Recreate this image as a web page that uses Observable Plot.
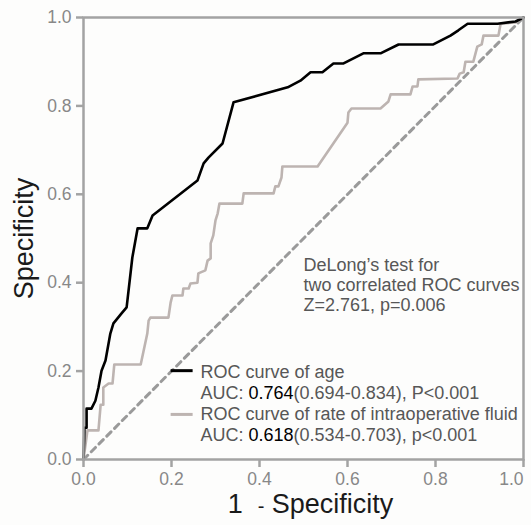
<!DOCTYPE html>
<html><head><meta charset="utf-8">
<script src="https://cdn.jsdelivr.net/npm/d3@7"></script>
<script src="https://cdn.jsdelivr.net/npm/@observablehq/plot@0.6"></script>
<style>
html,body{margin:0;padding:0;background:#fdfdfc;}
svg{display:block;}
</style>
</head><body><div id="chart"></div>
<script>
// ROC curve of age (x = 1 - specificity, y = "Specificity" axis as labelled)
const ageX = [0,0.002,0.002,0.007,0.007,0.018,0.027,0.034,0.041,0.050,0.061,0.068,0.086,0.098,0.111,0.123,0.145,0.157,0.259,0.273,0.284,0.316,0.341,0.464,0.493,0.516,0.543,0.568,0.591,0.636,0.675,0.716,0.795,0.834,0.852,0.873,0.941,0.982,1];
const ageY = [0,0.061,0.072,0.072,0.115,0.115,0.133,0.163,0.201,0.224,0.285,0.308,0.330,0.344,0.457,0.523,0.523,0.552,0.631,0.670,0.683,0.715,0.808,0.842,0.857,0.876,0.876,0.896,0.896,0.919,0.919,0.939,0.939,0.959,0.971,0.986,0.986,0.991,1];
// ROC curve of rate of intraoperative fluid
const fluidX = [0,0.009,0.034,0.039,0.045,0.045,0.057,0.066,0.070,0.130,0.145,0.148,0.152,0.193,0.198,0.202,0.225,0.227,0.239,0.243,0.259,0.261,0.277,0.282,0.289,0.289,0.295,0.300,0.305,0.309,0.361,0.364,0.432,0.436,0.443,0.450,0.452,0.532,0.600,0.602,0.609,0.675,0.693,0.698,0.743,0.748,0.759,0.761,0.850,0.855,0.864,0.868,0.886,0.895,0.905,0.909,0.943,0.948,0.982,1];
const fluidY = [0,0.066,0.066,0.124,0.124,0.163,0.172,0.172,0.215,0.215,0.285,0.314,0.321,0.321,0.355,0.371,0.371,0.387,0.387,0.398,0.400,0.421,0.428,0.450,0.455,0.489,0.507,0.541,0.557,0.579,0.579,0.602,0.602,0.618,0.618,0.638,0.663,0.663,0.762,0.785,0.794,0.794,0.810,0.826,0.826,0.844,0.844,0.860,0.862,0.873,0.876,0.900,0.900,0.934,0.939,0.959,0.959,0.986,0.989,1];
const refX = [0, 1];
const refY = [0, 1];
const tickValues = [0, 0.2, 0.4, 0.6, 0.8, 1.0];
const tickLabels = ["0.0", "0.2", "0.4", "0.6", "0.8", "1.0"];
const legendLabels = ["ROC curve of age", "ROC curve of rate of intraoperative fluid"];
const aucLines = ["AUC: 0.764(0.694-0.834), P<0.001", "AUC: 0.618(0.534-0.703), p<0.001"];
const aucValues = ["0.764", "0.618"];
const testLines = ["DeLong\u2019s test for", "two correlated ROC curves", "Z=2.761, p=0.006"];
const xTitle = "1 - Specificity";
const yTitle = "Specificity";

const ageData = ageX.map((x, i) => ({x, y: ageY[i]}));
const fluidData = fluidX.map((x, i) => ({x, y: fluidY[i]}));
const refData = refX.map((x, i) => ({x, y: refY[i]}));

const BLACK = "#000000", GREY = "#bdb4b1", AX = "#a3a3a3", TXT = "#575757";
const FONT = "'Liberation Sans', Arial, sans-serif";
const fmt = d => tickLabels[tickValues.indexOf(d)];

const legendText = [
  {t: legendLabels[0], y: 0.197},
  {t: aucLines[0], y: 0.149},
  {t: legendLabels[1], y: 0.102},
  {t: aucLines[1], y: 0.054}
];
const legendKeys = [
  {y: 0.201, c: BLACK},
  {y: 0.102, c: GREY}
];
const testText = testLines.map((t, i) => ({t, y: 0.439 - i * 0.0455}));

const chart = Plot.plot({
  width: 531,
  height: 525,
  marginLeft: 83,
  marginRight: 8,
  marginTop: 17,
  marginBottom: 66,
  style: {fontFamily: FONT, background: "#fdfdfc", overflow: "visible"},
  x: {domain: [0, 1]},
  y: {domain: [0, 1]},
  marks: [
    Plot.line(refData, {x: "x", y: "y", stroke: "#9a9a9a", strokeWidth: 3, strokeDasharray: "6,5"}),
    Plot.line(fluidData, {x: "x", y: "y", stroke: GREY, strokeWidth: 2.6}),
    Plot.line(ageData, {x: "x", y: "y", stroke: BLACK, strokeWidth: 2.6}),
    Plot.frame({stroke: AX, strokeWidth: 2.5}),
    Plot.axisX({ticks: tickValues.slice(0, 5), tickFormat: fmt, tickSize: 8, tickPadding: 5,
      stroke: AX, strokeWidth: 2.5, fill: "#888", fontSize: 17.5, label: null}),
    Plot.axisX({ticks: tickValues.slice(5), tickFormat: fmt, tickSize: 8, tickPadding: 5, textAnchor: "end", dx: 0,
      stroke: AX, strokeWidth: 2.5, fill: "#888", fontSize: 17.5, label: null}),
    Plot.axisY({ticks: tickValues, tickFormat: fmt, tickSize: 7, tickPadding: 5,
      stroke: AX, strokeWidth: 2.5, fill: "#888", fontSize: 17.5, label: null}),
    Plot.text([yTitle], {text: d => d, frameAnchor: "left", textAnchor: "middle", lineAnchor: "middle",
      rotate: -90, dx: -59, fontSize: 27, fill: "#1a1a1a"}),
    Plot.text([xTitle], {text: d => d, frameAnchor: "bottom", textAnchor: "middle", lineAnchor: "middle",
      dy: 45, dx: 7, fontSize: 27, fill: "#1a1a1a"}),
    Plot.link(legendKeys, {x1: 0.198, x2: 0.248, y1: "y", y2: "y", stroke: "c", strokeWidth: 3}),
    Plot.text(legendText, {x: 0.266, y: "y", text: "t", textAnchor: "start", fontSize: 18, fill: TXT}),
    Plot.text(testText, {x: 0.5, y: "y", text: "t", textAnchor: "start", fontSize: 18, fill: TXT})
  ]
});

d3.select(chart).selectAll("text").each(function() {
  const s = this.textContent;
  const el = d3.select(this);
  if (s.startsWith("AUC:")) {
    // the AUC values are printed in black in the original
    const v = aucValues.find(a => s.includes(a));
    if (!v) return;
    const k = s.indexOf(v);
    el.text(null);
    el.append("tspan").text(s.slice(0, k));
    el.append("tspan").attr("fill", "#000").text(v);
    el.append("tspan").text(s.slice(k + v.length));
  } else if (s === xTitle) {
    // small hyphen as in the original
    const k = s.indexOf("-");
    el.text(null);
    el.append("tspan").text(s.slice(0, k) + "\u00a0");
    el.append("tspan").attr("font-size", 20).text("-");
    el.append("tspan").text("\u00a0" + s.slice(k + 2));
  }
});

document.getElementById("chart").appendChild(chart);
</script>
</body></html>
